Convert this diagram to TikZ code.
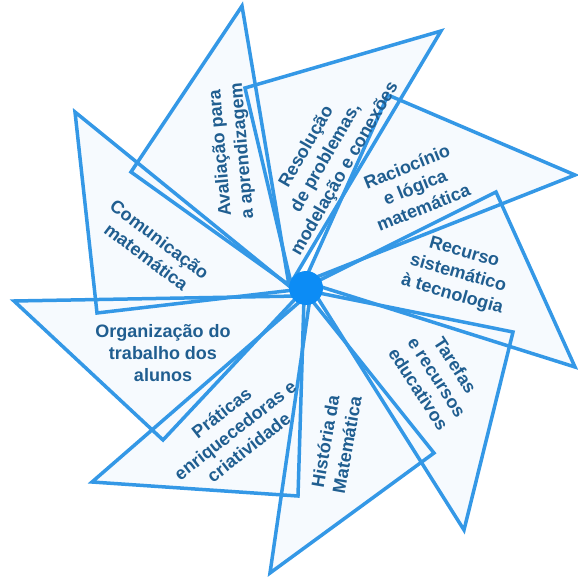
\documentclass[tikz,border=0pt]{standalone}
\usepackage{fontspec}
\setmainfont{Liberation Sans}
\definecolor{edgeblue}{RGB}{52,152,230}
\definecolor{blobblue}{RGB}{12,140,245}
\definecolor{txtblue}{RGB}{32,94,144}
\definecolor{paper}{RGB}{246,250,254}
\begin{document}
\begin{tikzpicture}[x=1pt,y=-1pt,
  lbl/.style={text=txtblue, font=\bfseries\fontsize{18}{22}\selectfont, align=center, inner sep=0pt},
  tri/.style={draw=edgeblue, line width=3.5pt, line join=miter}]
\useasboundingbox (0,0) rectangle (578,577);
\coordinate (C) at (306,288);
\coordinate (a0) at (289,285); \coordinate (a1) at (242,6);   \coordinate (a2) at (131,172);
\coordinate (b0) at (291,283); \coordinate (b1) at (245,88);  \coordinate (b2) at (441,31);
\coordinate (c0) at (304,282); \coordinate (c1) at (388,95);  \coordinate (c2) at (575,175);
\coordinate (d0) at (312,284); \coordinate (d1) at (496,192); \coordinate (d2) at (575,367);
\coordinate (e0) at (314,292); \coordinate (e1) at (513,332); \coordinate (e2) at (464,530);
\coordinate (f0) at (310,298); \coordinate (f1) at (434,453); \coordinate (f2) at (270,573);
\coordinate (g0) at (304,298); \coordinate (g1) at (298,496); \coordinate (g2) at (92,482);
\coordinate (h0) at (298,296); \coordinate (h1) at (14,301);  \coordinate (h2) at (163,440);
\coordinate (i0) at (294,290); \coordinate (i1) at (75,112);  \coordinate (i2) at (97,313);
\foreach \t in {a,b,c,d,e,f,g,h,i}
  \fill[paper] (\t0) -- (\t1) -- (\t2) -- cycle;
\foreach \t in {a,b,c,d,e,f,g,h,i}
  \draw[tri] (\t0) -- (\t1) -- (\t2) -- cycle;
\fill[blobblue] (C) circle (17);
\node[lbl, rotate=95] (ta) at (232,152) {Avaliação para\\a aprendizagem};
\node[lbl, rotate=60] (tb) at (326,158) {Resolução\\de problemas,\\modelação e conexões};
\node[lbl, rotate=22] (tc) at (415,187) {Raciocínio\\e lógica\\matemática};
\node[lbl, rotate=-16] (td) at (458,274) {Recurso\\sistemático\\à tecnologia};
\node[lbl, rotate=-57] (te) at (437,377) {Tarefas\\e recursos\\educativos};
\node[lbl, rotate=80] (tf) at (336,443) {História da\\Matemática};
\node[lbl, rotate=38] (tg) at (235,430) {Práticas\\enriquecedoras e\\criatividade};
\node[lbl] (th) at (163,353) {Organização do\\trabalho dos\\alunos};
\node[lbl, rotate=-37] (ti) at (153,248) {Comunicação\\matemática};
\end{tikzpicture}
\end{document}
